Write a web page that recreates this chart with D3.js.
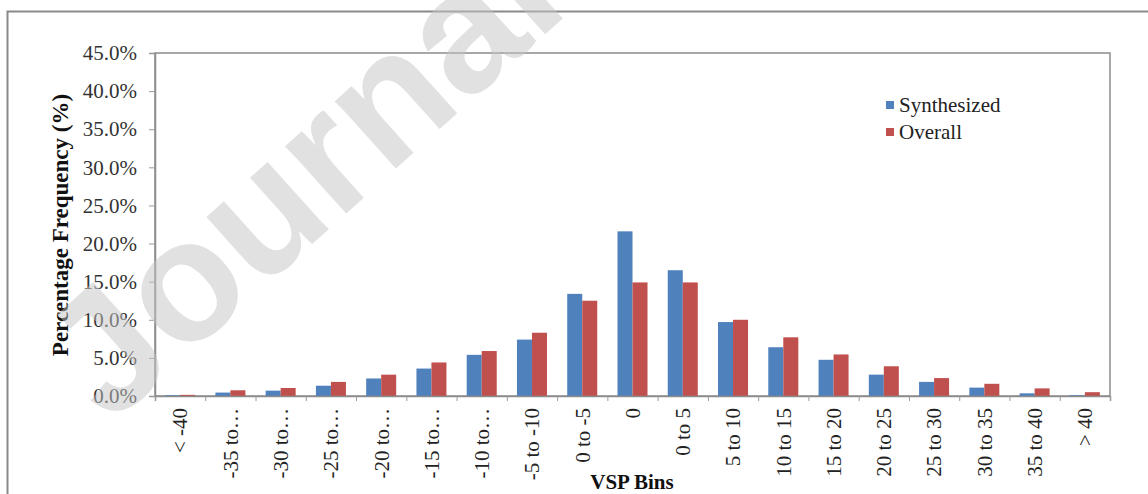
<!DOCTYPE html>
<html>
<head>
<meta charset="utf-8">
<script src="https://cdn.jsdelivr.net/npm/d3@7"></script>
<style>
  html, body { margin: 0; padding: 0; background: #fff; }
  svg { display: block; }
  text { font-family: "Liberation Serif", "Times New Roman", serif; }
  text.watermark { font-family: "Liberation Sans", Arial, sans-serif; }
</style>
</head>
<body>
<svg id="chart" width="1148" height="494"></svg>
<script>
// VSP bin distribution: synthesized vs. overall driving cycles
const categories = ["< -40", "-35 to…", "-30 to…", "-25 to…", "-20 to…", "-15 to…", "-10 to…",
  "-5 to -10", "0 to -5", "0", "0 to 5", "5 to 10", "10 to 15", "15 to 20", "20 to 25",
  "25 to 30", "30 to 35", "35 to 40", "> 40"];
const synthesized = [0.1, 0.45, 0.7, 1.35, 2.3, 3.6, 5.4, 7.4, 13.4, 21.6, 16.5, 9.7, 6.4, 4.75, 2.8, 1.85, 1.1, 0.35, 0.1];
const overall = [0.15, 0.75, 1.05, 1.85, 2.8, 4.4, 5.9, 8.3, 12.5, 14.9, 14.9, 10.0, 7.7, 5.45, 3.9, 2.35, 1.6, 1.0, 0.5];
const seriesNames = ["Synthesized", "Overall"];
const seriesColors = ["#4F81BD", "#C0504D"];
const yTicks = [0, 5, 10, 15, 20, 25, 30, 35, 40, 45];

const svg = d3.select("#chart");
const plot = { left: 155, right: 1110, top: 53, bottom: 396 };

// outer chart frame (right and bottom edges fall outside the view)
svg.append("rect")
  .attr("x", 7.5).attr("y", 11.5).attr("width", 1160).attr("height", 500)
  .attr("fill", "#fff").attr("stroke", "#8a8a8a").attr("stroke-width", 2);

const x = d3.scaleBand().domain(categories).range([plot.left, plot.right])
  .paddingInner(0.403).paddingOuter(0.2015);
const xs = d3.scaleBand().domain(seriesNames).range([0, x.bandwidth()]);
const y = d3.scaleLinear().domain([0, 45]).range([plot.bottom, plot.top]);
const xEdge = d3.scaleLinear().domain([0, categories.length]).range([plot.left, plot.right]);

// plot area border
svg.append("rect")
  .attr("x", plot.left).attr("y", plot.top)
  .attr("width", plot.right - plot.left).attr("height", plot.bottom - plot.top)
  .attr("fill", "none").attr("stroke", "#8c8c8c").attr("stroke-width", 1.5);

// bars
const series = [synthesized, overall];
series.forEach((vals, si) => {
  svg.append("g").selectAll("rect")
    .data(vals)
    .join("rect")
    .attr("x", (d, i) => x(categories[i]) + xs(seriesNames[si]))
    .attr("y", d => y(d))
    .attr("width", xs.bandwidth())
    .attr("height", d => y(0) - y(d))
    .attr("fill", seriesColors[si]);
});

// y axis
const yAxis = svg.append("g")
  .attr("transform", `translate(${plot.left},0)`)
  .call(d3.axisLeft(y).tickValues(yTicks).tickFormat(d => d.toFixed(1) + "%")
    .tickSize(6).tickPadding(12));
yAxis.select(".domain").attr("stroke", "#8c8c8c").attr("stroke-width", 1.5);
yAxis.selectAll(".tick line").attr("stroke", "#9a9a9a");
yAxis.selectAll("text")
  .attr("font-size", 21).attr("fill", "#333");

// x axis: boundary tick marks
const xTickAxis = svg.append("g")
  .attr("transform", `translate(0,${plot.bottom})`)
  .call(d3.axisBottom(xEdge).tickValues(d3.range(categories.length + 1))
    .tickSize(5).tickFormat(""));
xTickAxis.select(".domain").attr("stroke", "#8c8c8c").attr("stroke-width", 1.5);
xTickAxis.selectAll(".tick line").attr("stroke", "#9a9a9a");

// x axis: rotated category labels
const xAxis = svg.append("g")
  .attr("transform", `translate(0,${plot.bottom})`)
  .call(d3.axisBottom(x).tickSize(0));
xAxis.select(".domain").remove();
xAxis.selectAll("text")
  .attr("transform", "rotate(-90)")
  .attr("x", -12).attr("y", 0).attr("dy", "0.35em")
  .attr("text-anchor", "end")
  .attr("font-size", 21).attr("fill", "#222");

// axis titles
svg.append("text")
  .attr("transform", "translate(68,225) rotate(-90)")
  .attr("text-anchor", "middle")
  .attr("font-weight", "bold").attr("font-size", 23).attr("fill", "#111")
  .text("Percentage Frequency (%)");

svg.append("text")
  .attr("x", 632).attr("y", 489)
  .attr("text-anchor", "middle")
  .attr("font-weight", "bold").attr("font-size", 21).attr("fill", "#111")
  .text("VSP Bins");

// legend
const legend = svg.append("g");
seriesNames.forEach((name, i) => {
  const ly = 105 + i * 27;
  legend.append("rect")
    .attr("x", 886).attr("y", ly - 4).attr("width", 8).attr("height", 8)
    .attr("fill", seriesColors[i]);
  legend.append("text")
    .attr("x", 899).attr("y", ly).attr("dy", "0.35em")
    .attr("font-size", 21).attr("fill", "#222")
    .text(name);
});

// watermark
svg.append("text")
  .attr("class", "watermark")
  .attr("transform", "translate(110,426) rotate(-42)")
  .attr("font-weight", "bold")
  .attr("font-size", 172)
  .attr("fill", "#c4c4c4").attr("fill-opacity", 0.5)
  .text("Journal Pre-proof");
</script>
</body>
</html>
